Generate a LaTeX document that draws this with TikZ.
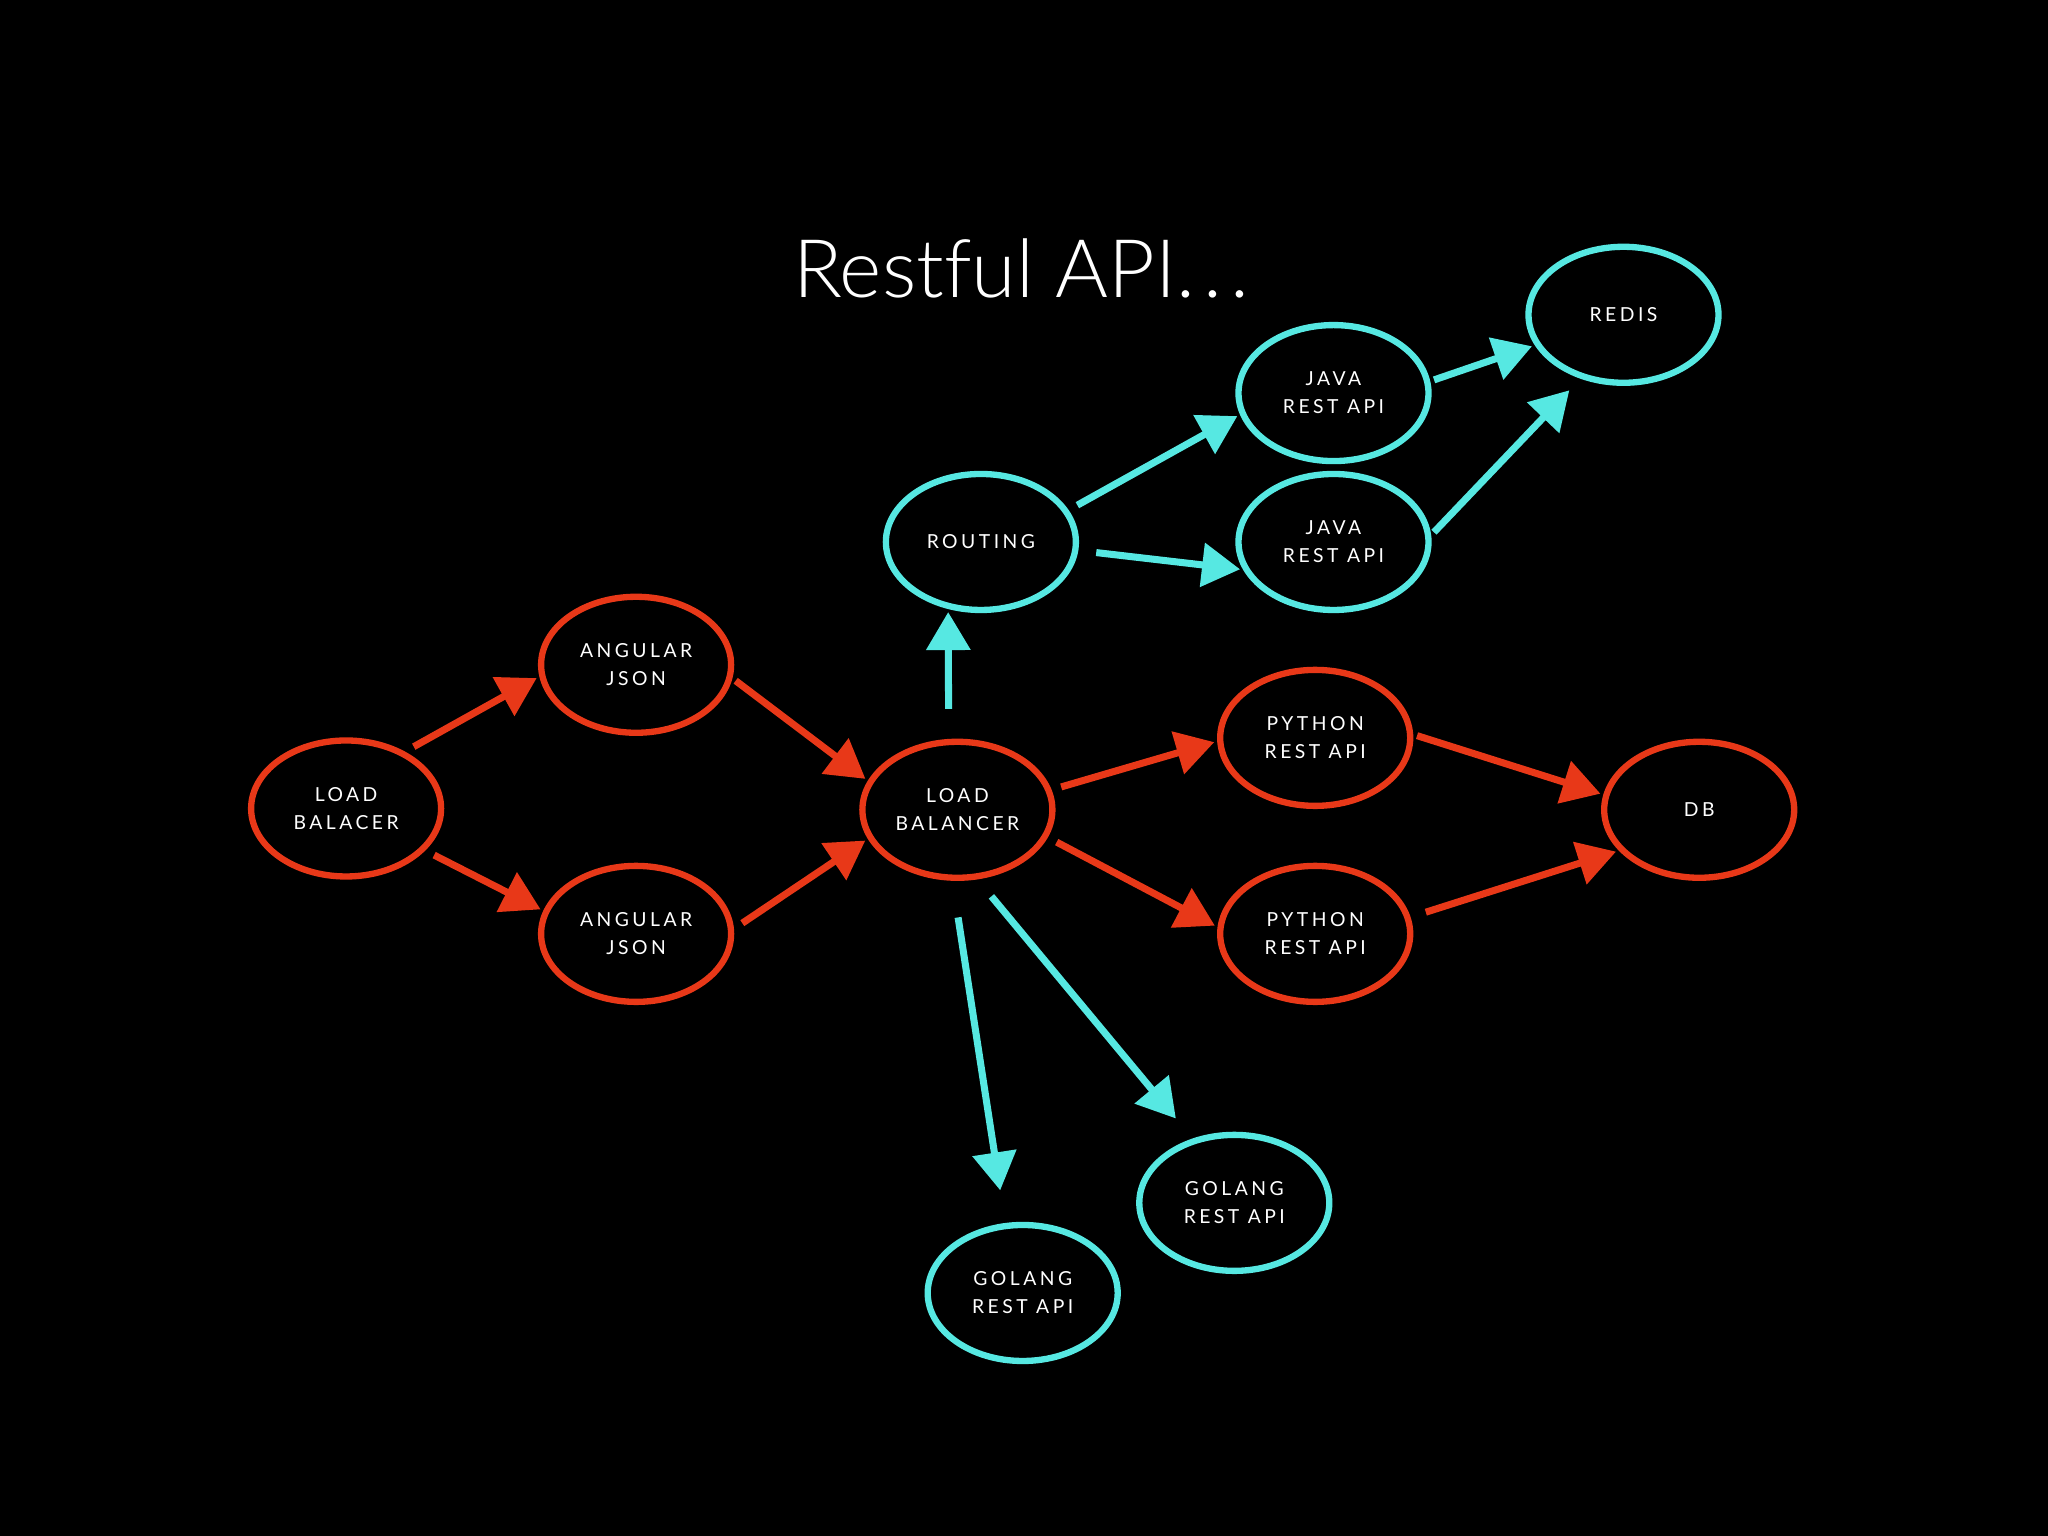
\documentclass[tikz,border=0pt]{standalone}
\usepackage{fontspec}
\setmainfont{Lato}
\newfontfamily\labelfont{Lato}[LetterSpace=18]
\newfontfamily\titlefont{Lato Light}[Ligatures=NoCommon]
\usetikzlibrary{arrows.meta, shapes.geometric}
\definecolor{chalkred}{RGB}{232, 56, 24}
\definecolor{chalkcyan}{RGB}{86, 232, 226}
\tikzset{
    svcnode/.style={draw, ellipse, line width=1.8pt, minimum width=1.9cm, minimum height=1.36cm, inner sep=0pt, font=\labelfont\fontsize{5.5}{8}\selectfont, text=white, align=center},
    rednode/.style={svcnode, draw=chalkred},
    cyannode/.style={svcnode, draw=chalkcyan},
    flowarrow/.style={-{Triangle[length=3.8mm, width=4.3mm]}, line width=2pt, shorten <=0.1cm, shorten >=0.03cm},
    redarrow/.style={flowarrow, draw=chalkred},
    cyanarrow/.style={flowarrow, draw=chalkcyan},
}

\begin{document}
\begin{tikzpicture}
    % background
    \fill[black] (0,0) rectangle (20.48,15.36);
    \node[font=\titlefont\fontsize{23}{28}\selectfont, text=white, anchor=base] (title) at (10.21,12.38) {Restful API.\kern2.2pt.\kern2.2pt.};

    % front end
    \node[rednode] (lb1) at (3.461,7.275) {LOAD\\BALACER};
    \node[rednode] (aj1) at (6.361,8.712) {ANGULAR\\JSON};
    \node[rednode] (aj2) at (6.361,6.021) {ANGULAR\\JSON};
    \node[rednode] (lb2) at (9.574,7.262) {LOAD\\BALANCER};

    % java side
    \node[cyannode] (rt) at (9.809,9.940) {ROUTING};
    \node[cyannode] (jv1) at (13.335,11.429) {JAVA\\REST API};
    \node[cyannode] (jv2) at (13.335,9.940) {JAVA\\REST API};
    \node[cyannode] (rd) at (16.235,12.212) {REDIS};

    % python side
    \node[rednode] (py1) at (13.152,7.981) {PYTHON\\REST API};
    \node[rednode] (py2) at (13.152,6.021) {PYTHON\\REST API};
    \node[rednode] (db) at (16.992,7.262) {DB};

    % golang
    \node[cyannode] (go1) at (12.343,3.331) {GOLANG\\REST API};
    \node[cyannode] (go2) at (10.227,2.430) {GOLANG\\REST API};

    % arrows
    \draw[redarrow] (lb1.44) -- (aj1.187);
    \draw[redarrow] (lb1.-28) -- (aj2.166);
    \draw[redarrow, shorten <=0.04cm] (aj1.-8) -- (lb2.162);
    \draw[redarrow] (aj2.3) -- (lb2.198);
    \draw[cyanarrow, shorten <=0.3cm] (lb2.97) -- (rt.244);
    \draw[cyanarrow] (rt.20) -- (jv1.193);
    \draw[cyanarrow, shorten <=0.18cm] (rt.-5) -- (jv2.197);
    \draw[cyanarrow, shorten <=0.04cm] (jv1.7) -- (rd.199);
    \draw[cyanarrow, shorten <=0.04cm, shorten >=0.16cm] (jv2.4) -- (rd.236);
    \draw[redarrow] (lb2.12) -- (py1.182);
    \draw[redarrow] (lb2.-17) -- (py2.176);
    \draw[redarrow, shorten <=0.04cm] (py1.2) -- (db.171);
    \draw[redarrow, shorten <=0.16cm] (py2.10) -- (db.207);
    \draw[cyanarrow, shorten <=0.37cm, shorten >=0.33cm] (lb2.266) -- (go2.104);
    \draw[cyanarrow, shorten <=0.22cm, shorten >=0.26cm] (lb2.286) -- (go1.123);
\end{tikzpicture}
\end{document}
